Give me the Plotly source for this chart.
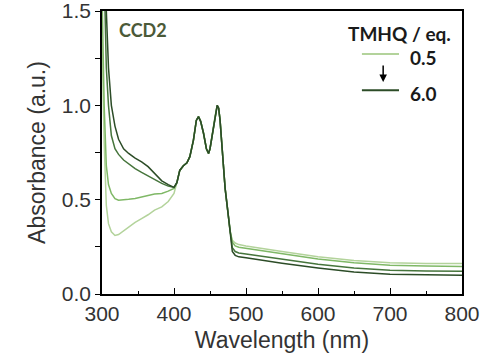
import plotly.graph_objects as go

# ---- data ----
wl_short = [300, 303, 306, 309, 313, 318, 323, 330, 337, 346, 355, 364, 373, 383, 392, 400]
short_c1 = [1.35, 0.80, 0.47, 0.373, 0.33, 0.31, 0.315, 0.335, 0.355, 0.38, 0.40, 0.42, 0.445, 0.462, 0.49, 0.533]
short_c2 = [1.60, 1.00, 0.68, 0.58, 0.533, 0.505, 0.497, 0.498, 0.502, 0.506, 0.515, 0.524, 0.53, 0.533, 0.545, 0.56]
short_c3 = [2.20, 1.60, 1.20, 1.00, 0.84, 0.77, 0.74, 0.71, 0.69, 0.665, 0.645, 0.625, 0.605, 0.586, 0.572, 0.565]
short_c4 = [2.60, 2.00, 1.50, 1.20, 1.00, 0.89, 0.82, 0.77, 0.745, 0.72, 0.70, 0.675, 0.64, 0.60, 0.58, 0.565]

wl_common = [404, 408, 413, 418, 422, 427, 431, 434, 437, 441, 445, 448, 450, 452, 455, 457,
             460, 462, 464, 466, 468.5, 471, 475, 478]
abs_common = [0.59, 0.655, 0.68, 0.695, 0.728, 0.816, 0.92, 0.94, 0.915, 0.852, 0.77, 0.745,
              0.77, 0.816, 0.90, 0.94, 1.0, 0.985, 0.92, 0.816, 0.657, 0.56, 0.43, 0.33]

wl_tail = [481, 485, 490, 500, 550, 600, 650, 700, 750, 800]
tail_c1 = [0.285, 0.27, 0.262, 0.255, 0.225, 0.198, 0.178, 0.165, 0.162, 0.161]
tail_c2 = [0.275, 0.255, 0.248, 0.242, 0.212, 0.185, 0.165, 0.152, 0.148, 0.146]
tail_c3 = [0.245, 0.225, 0.217, 0.212, 0.184, 0.158, 0.138, 0.126, 0.122, 0.121]
tail_c4 = [0.225, 0.205, 0.197, 0.192, 0.163, 0.138, 0.117, 0.105, 0.101, 0.099]

series_names = ["0.5", "1", "2", "6.0"]
series_colors = ["#b3d39b", "#7fb866", "#46753c", "#2c4c27"]
short_sets = [short_c1, short_c2, short_c3, short_c4]
tail_sets = [tail_c1, tail_c2, tail_c3, tail_c4]

x_ticks = [300, 400, 500, 600, 700, 800]
y_ticks = [0.0, 0.5, 1.0, 1.5]
y_tick_text = ["0.0", "0.5", "1.0", "1.5"]

fig = go.Figure()
for name, col, s, t in zip(series_names, series_colors, short_sets, tail_sets):
    fig.add_trace(go.Scatter(
        x=wl_short + wl_common + wl_tail,
        y=s + abs_common + t,
        mode="lines", name=name,
        line=dict(color=col, width=1.5),
        showlegend=False, hoverinfo="skip",
    ))

tick_font = dict(family="Liberation Sans, Arial, sans-serif", size=21, color="#333333")
title_font = dict(family="Liberation Sans, Arial, sans-serif", size=23, color="#333333")

fig.update_layout(
    width=485, height=361,
    margin=dict(l=102, r=23, t=11, b=67),
    paper_bgcolor="white", plot_bgcolor="white",
    xaxis=dict(
        range=[300, 800], tickvals=x_ticks, ticktext=[str(v) for v in x_ticks],
        ticks="inside", ticklen=6, tickwidth=1.2, tickcolor="black",
        minor=dict(tickvals=[350, 450, 550, 650, 750], ticks="inside", ticklen=3, tickcolor="black"),
        showline=True, linecolor="black", linewidth=1.5, mirror=True,
        showgrid=False, zeroline=False, tickfont=tick_font, automargin=False,
        ticklabeloverflow="allow",
        title=dict(text="Wavelength (nm)", font=title_font, standoff=8),
    ),
    yaxis=dict(
        range=[0, 1.5], tickvals=y_ticks, ticktext=y_tick_text,
        ticks="outside", ticklen=5, tickwidth=1.2, tickcolor="black",
        minor=dict(tickvals=[0.25, 0.75, 1.25], ticks="outside", ticklen=5, tickcolor="black"),
        showline=True, linecolor="black", linewidth=1.5, mirror=True,
        showgrid=False, zeroline=False, tickfont=tick_font, automargin=False,
        ticklabeloverflow="allow",
        title=dict(text="Absorbance (a.u.)", font=title_font, standoff=10),
    ),
)

bold = "Lato, 'Open Sans', sans-serif"
fig.add_annotation(xref="paper", yref="paper", x=0.042, y=0.933, xanchor="left", yanchor="middle",
                   text="<b>CCD2</b>", showarrow=False,
                   font=dict(family=bold, size=18, color="#4b5a38"))
fig.add_annotation(xref="paper", yref="paper", x=0.975, y=0.922, xanchor="right", yanchor="middle",
                   text="<b>TMHQ / eq.</b>", showarrow=False,
                   font=dict(family=bold, size=19, color="#1a1a1a"))
fig.add_annotation(xref="paper", yref="paper", x=0.85, y=0.837, xanchor="left", yanchor="middle",
                   text="<b>0.5</b>", showarrow=False,
                   font=dict(family=bold, size=19, color="#1a1a1a"))
fig.add_annotation(xref="paper", yref="paper", x=0.85, y=0.710, xanchor="left", yanchor="middle",
                   text="<b>6.0</b>", showarrow=False,
                   font=dict(family=bold, size=19, color="#1a1a1a"))
fig.add_shape(type="line", xref="paper", yref="paper", x0=0.722, x1=0.825, y0=0.848, y1=0.848,
              line=dict(color=series_colors[0], width=2))
fig.add_shape(type="line", xref="paper", yref="paper", x0=0.722, x1=0.825, y0=0.720, y1=0.720,
              line=dict(color=series_colors[3], width=2))
fig.add_annotation(xref="paper", yref="paper", x=0.781, y=0.749, ax=0, ay=-18, text="",
                   showarrow=True, arrowhead=2, arrowsize=1, arrowwidth=1.5, arrowcolor="black")

fig.write_html("out.html", config={"displayModeBar": False},
               post_script="document.body.style.margin='0';")
